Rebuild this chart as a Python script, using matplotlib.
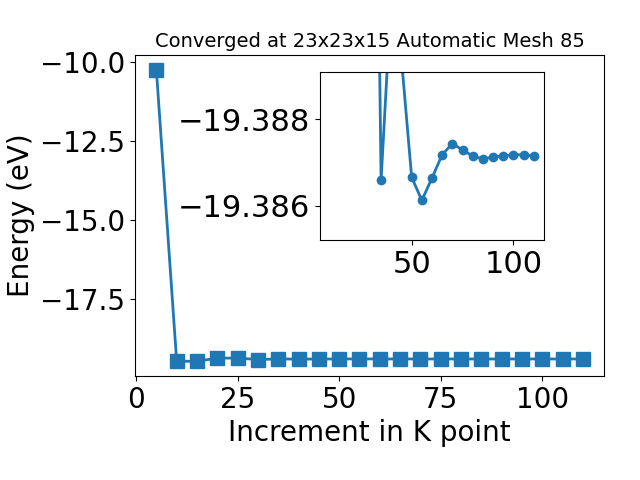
import matplotlib
matplotlib.use("Agg")
import matplotlib.pyplot as plt
import numpy as np

# k-point increments and total energies (eV)
kpoints = [5, 10, 15, 20, 25, 30, 35, 40, 45, 50, 55, 60,
           65, 70, 75, 80, 85, 90, 95, 100, 105, 110]
energies = [-10.25, -19.46, -19.46, -19.36, -19.36, -19.405, -19.38659,
            -19.3909, -19.3894, -19.38666, -19.38612, -19.38664,
            -19.38718, -19.38744, -19.38729, -19.38715, -19.38708,
            -19.38713, -19.38715, -19.38718, -19.38718, -19.38715]

# inset shows the tail starting from this k-point
inset_start = 30

title = "Converged at 23x23x15 Automatic Mesh 85"

fig = plt.figure(figsize=(6.4, 4.8), dpi=100)
ax = fig.add_axes([0.211, 0.217, 0.733, 0.668])
ax.plot(kpoints, energies, marker='s', markersize=10, linewidth=2, color='#1f77b4')
ax.set_xlabel("Increment in K point", fontsize=20)
ax.set_ylabel("Energy (eV)", fontsize=20)
ax.set_title(title, fontsize=14)
ax.set_xticks([0, 25, 50, 75, 100])
ax.set_yticks([-10.0, -12.5, -15.0, -17.5])
ax.tick_params(labelsize=20)

# zoomed inset
i0 = kpoints.index(inset_start)
axin = fig.add_axes([0.5, 0.5, 0.35, 0.35])
axin.plot(kpoints[i0:], energies[i0:], marker='o', markersize=6, linewidth=2, color='#1f77b4')
axin.set_xlim(5, 115)
axin.set_ylim(-19.3852, -19.3891)
axin.set_xticks([50, 100])
axin.set_yticks([-19.388, -19.386])
axin.ticklabel_format(axis='y', useOffset=False)
axin.tick_params(labelsize=22)

fig.savefig("out.png", dpi=100)
